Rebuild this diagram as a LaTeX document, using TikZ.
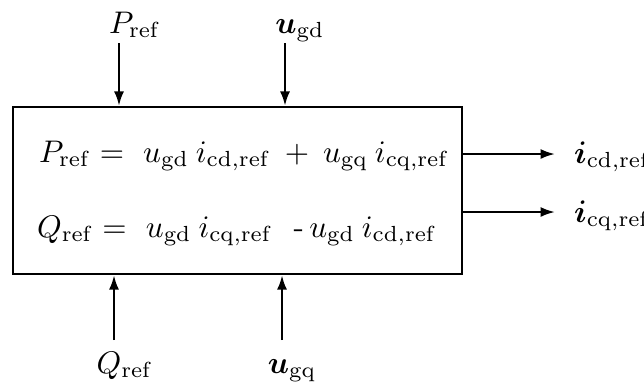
\documentclass[tikz,border=0pt]{standalone}
\usepackage{amsmath}
\usepackage{tikz}
\usetikzlibrary{arrows.meta}

\begin{document}
\begin{tikzpicture}[x=0.32pt, y=-0.32pt, line width=0.75pt, >={Latex[length=4.6pt,width=3.2pt]},
    lbl/.style={anchor=base, inner sep=0pt},
    eqn/.style={anchor=base west, inner sep=0pt}]
    \useasboundingbox (0,0) rectangle (644,389);
    \node[draw, minimum width=449*0.32pt, minimum height=167*0.32pt, inner sep=0pt] (box) at (237.5,190.5) {};
    \node[eqn] (prow) at (38,162) {$P_{\mathrm{ref}} =\ u_{\mathrm{gd}}\:i_{\mathrm{cd,ref}}\:+\:u_{\mathrm{gq}}\:i_{\mathrm{cq,ref}}$};
    \node[eqn] (qrow) at (36,237) {$Q_{\mathrm{ref}} =\ u_{\mathrm{gd}}\:i_{\mathrm{cq,ref}}\ \ \text{-}\,u_{\mathrm{gd}}\:i_{\mathrm{cd,ref}}$};
    \node[lbl] (pref) at (135,33) {$P_{\mathrm{ref}}$};
    \node[lbl] (ugd) at (300,33) {$\boldsymbol{u}_{\mathrm{gd}}$};
    \node[lbl] (qref) at (125,373) {$Q_{\mathrm{ref}}$};
    \node[lbl] (ugq) at (292,373) {$\boldsymbol{u}_{\mathrm{gq}}$};
    \node[lbl, anchor=base west] (icd) at (573,163) {$\boldsymbol{i}_{\mathrm{cd,ref}}$};
    \node[lbl, anchor=base west] (icq) at (573,222) {$\boldsymbol{i}_{\mathrm{cq,ref}}$};
    \coordinate (pin) at (119,43);
    \coordinate (uin) at (285,43);
    \coordinate (qin) at (114,340);
    \coordinate (vin) at (282,340);
    \coordinate (iout) at (555,154);
    \coordinate (jout) at (555,212);
    \draw[->] (pin) -- (pin |- box.north);
    \draw[->] (uin) -- (uin |- box.north);
    \draw[->] (qin) -- (qin |- box.south);
    \draw[->] (vin) -- (vin |- box.south);
    \draw[->] (iout -| box.east) -- (iout);
    \draw[->] (jout -| box.east) -- (jout);
\end{tikzpicture}
\end{document}
